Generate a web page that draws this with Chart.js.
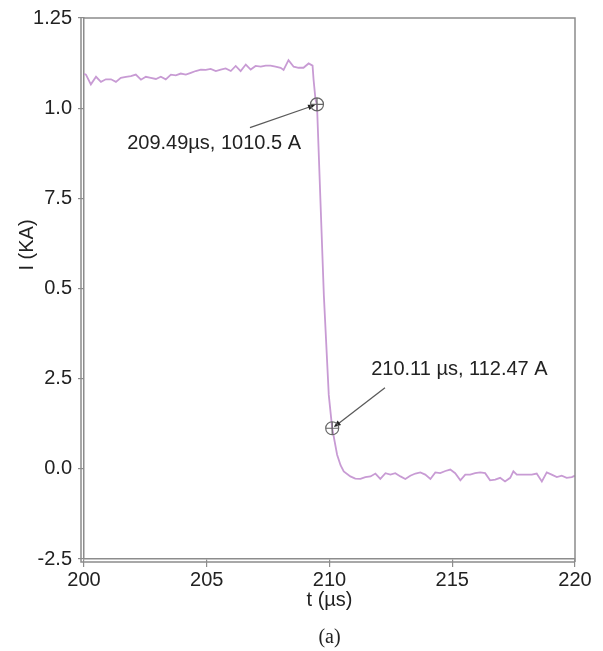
<!DOCTYPE html>
<html>
<head>
<meta charset="utf-8">
<script src="https://cdn.jsdelivr.net/npm/chart.js@4.4.1/dist/chart.umd.min.js"></script>
<style>
  html, body { margin: 0; padding: 0; background: #fff; }
  canvas { display: block; }
</style>
</head>
<body>
<canvas id="chart" width="603" height="651"></canvas>
<script>
// time in µs, current in kA
const timeUs = [
  200.00, 200.08, 200.28, 200.49, 200.69, 200.89, 201.10, 201.30, 201.50, 201.71,
  201.91, 202.11, 202.32, 202.52, 202.72, 202.93, 203.13, 203.33, 203.54, 203.74,
  203.94, 204.15, 204.35, 204.55, 204.76, 204.96, 205.16, 205.37, 205.57, 205.77,
  205.98, 206.18, 206.38, 206.59, 206.79, 206.99, 207.20, 207.40, 207.60, 207.80,
  208.01, 208.13, 208.33, 208.54, 208.74, 208.94, 209.15, 209.31, 209.35, 209.43,
  209.49, 209.77, 209.97, 210.11, 210.31, 210.45, 210.58, 210.85, 211.05, 211.26,
  211.46, 211.67, 211.87, 212.07, 212.28, 212.48, 212.68, 212.89, 213.09, 213.29,
  213.50, 213.70, 213.90, 214.11, 214.31, 214.51, 214.72, 214.92, 215.12, 215.33,
  215.53, 215.73, 215.93, 216.14, 216.34, 216.54, 216.75, 216.95, 217.15, 217.36,
  217.49, 217.63, 217.90, 218.24, 218.44, 218.65, 218.85, 219.05, 219.26, 219.46,
  219.66, 219.87, 220.00
];
const currentKA = [
  1.095, 1.093, 1.066, 1.087, 1.073, 1.080, 1.080, 1.073, 1.084, 1.087,
  1.089, 1.093, 1.079, 1.087, 1.084, 1.081, 1.087, 1.080, 1.093, 1.091,
  1.096, 1.093, 1.098, 1.103, 1.107, 1.106, 1.109, 1.103, 1.107, 1.110,
  1.103, 1.117, 1.103, 1.121, 1.107, 1.117, 1.115, 1.118, 1.118, 1.115,
  1.112, 1.106, 1.133, 1.115, 1.112, 1.112, 1.124, 1.118, 1.080, 1.024,
  1.0105, 0.481, 0.205, 0.1125, 0.039, 0.010, -0.007, -0.021, -0.027, -0.028,
  -0.023, -0.021, -0.013, -0.028, -0.012, -0.016, -0.012, -0.021, -0.028, -0.019,
  -0.013, -0.010, -0.016, -0.028, -0.010, -0.012, -0.006, -0.002, -0.012, -0.032,
  -0.016, -0.016, -0.012, -0.010, -0.012, -0.032, -0.030, -0.025, -0.035, -0.025,
  -0.007, -0.016, -0.016, -0.016, -0.013, -0.035, -0.010, -0.016, -0.023, -0.019,
  -0.025, -0.023, -0.019
];

// tick labels exactly as printed on the figure
const yTickLabels = ["-2.5", "0.0", "2.5", "0.5", "7.5", "1.0", "1.25"];

// marked points and their callouts
const markerTimes = [209.49, 210.11];
const markerValues = [1.0105, 0.11247];
const markerTexts = ["209.49µs, 1010.5 A", "210.11 µs, 112.47 A"];
const labelTimes = [205.30, 215.29];
const labelValues = [0.902, 0.275];
const arrowTailTimes = [206.76, 212.26];
const arrowTailValues = [0.946, 0.225];

const FONT = '"Liberation Sans", Arial, sans-serif';
const AXIS_GREY = '#8c8c8c';

const overlay = {
  id: 'overlay',
  afterDraw(chart) {
    const { ctx, chartArea: a, scales: { x, y } } = chart;
    ctx.save();

    // box: top/right edges plus the second line of the left/bottom axes
    ctx.strokeStyle = AXIS_GREY;
    ctx.lineWidth = 1.5;
    ctx.beginPath();
    ctx.moveTo(a.left, a.top);
    ctx.lineTo(a.right, a.top);
    ctx.lineTo(a.right, a.bottom + 3);
    ctx.moveTo(a.left - 3, a.top);
    ctx.lineTo(a.left - 3, a.bottom + 3);
    ctx.lineTo(a.right, a.bottom + 3);
    ctx.stroke();

    // callouts
    for (let i = 0; i < markerTimes.length; i++) {
      const px = x.getPixelForValue(markerTimes[i]);
      const py = y.getPixelForValue(markerValues[i]);
      const tx = x.getPixelForValue(arrowTailTimes[i]);
      const ty = y.getPixelForValue(arrowTailValues[i]);

      const ang = Math.atan2(py - ty, px - tx);
      const hx = px - 2 * Math.cos(ang);
      const hy = py - 2 * Math.sin(ang);

      ctx.strokeStyle = '#5a5a5a';
      ctx.lineWidth = 1.3;
      ctx.beginPath();
      ctx.moveTo(tx, ty);
      ctx.lineTo(hx - 6 * Math.cos(ang), hy - 6 * Math.sin(ang));
      ctx.stroke();

      ctx.fillStyle = '#222';
      ctx.beginPath();
      ctx.moveTo(hx, hy);
      ctx.lineTo(hx - 7 * Math.cos(ang) + 2.8 * Math.sin(ang), hy - 7 * Math.sin(ang) - 2.8 * Math.cos(ang));
      ctx.lineTo(hx - 7 * Math.cos(ang) - 2.8 * Math.sin(ang), hy - 7 * Math.sin(ang) + 2.8 * Math.cos(ang));
      ctx.closePath();
      ctx.fill();

      ctx.strokeStyle = '#666';
      ctx.lineWidth = 1.2;
      ctx.beginPath();
      ctx.arc(px, py, 6.5, 0, Math.PI * 2);
      ctx.moveTo(px - 6.5, py);
      ctx.lineTo(px + 6.5, py);
      ctx.moveTo(px, py - 6.5);
      ctx.lineTo(px, py + 6.5);
      ctx.stroke();

      ctx.fillStyle = '#222';
      ctx.font = '20px ' + FONT;
      ctx.textAlign = 'center';
      ctx.textBaseline = 'middle';
      ctx.fillText(markerTexts[i], x.getPixelForValue(labelTimes[i]), y.getPixelForValue(labelValues[i]));
    }

    // y axis title sits above centre on the original
    ctx.fillStyle = '#222';
    ctx.font = '20px ' + FONT;
    ctx.translate(27, 245);
    ctx.rotate(-Math.PI / 2);
    ctx.textAlign = 'center';
    ctx.textBaseline = 'middle';
    ctx.fillText('I (KA)', 0, 0);
    ctx.setTransform(1, 0, 0, 1, 0, 0);

    // figure caption
    ctx.font = '20px "Liberation Serif", "Times New Roman", serif';
    ctx.fillText('(a)', (a.left + a.right) / 2, 638);
    ctx.restore();
  }
};

new Chart(document.getElementById('chart'), {
  type: 'line',
  data: {
    datasets: [{
      data: timeUs.map((t, i) => ({ x: t, y: currentKA[i] })),
      borderColor: 'rgb(200, 155, 212)',
      borderWidth: 1.8,
      pointRadius: 0,
      tension: 0,
      fill: false,
    }],
  },
  options: {
    responsive: false,
    animation: false,
    events: [],
    layout: { padding: { top: 15, right: 28, bottom: 39, left: 0 } },
    plugins: { legend: { display: false }, tooltip: { enabled: false } },
    scales: {
      x: {
        type: 'linear',
        min: 200,
        max: 220,
        afterFit: (scale) => { scale.height = 53; },
        border: { color: AXIS_GREY, width: 1.5 },
        grid: { drawOnChartArea: false, color: AXIS_GREY, tickLength: 8, lineWidth: 1.2 },
        ticks: { stepSize: 5, padding: 1, color: '#222', font: { family: FONT, size: 20 } },
        title: { display: true, text: 't (µs)', color: '#222', padding: 0, font: { family: FONT, size: 20 } },
      },
      y: {
        min: -0.25,
        max: 1.25,
        afterFit: (scale) => { scale.width = 84; },
        border: { color: AXIS_GREY, width: 1.5 },
        grid: { drawOnChartArea: false, color: AXIS_GREY, tickLength: 6, lineWidth: 1.2 },
        ticks: {
          stepSize: 0.25,
          padding: 6,
          color: '#222',
          font: { family: FONT, size: 20 },
          callback: (value, index) => yTickLabels[index],
        },
      },
    },
  },
  plugins: [overlay],
});
</script>
</body>
</html>
